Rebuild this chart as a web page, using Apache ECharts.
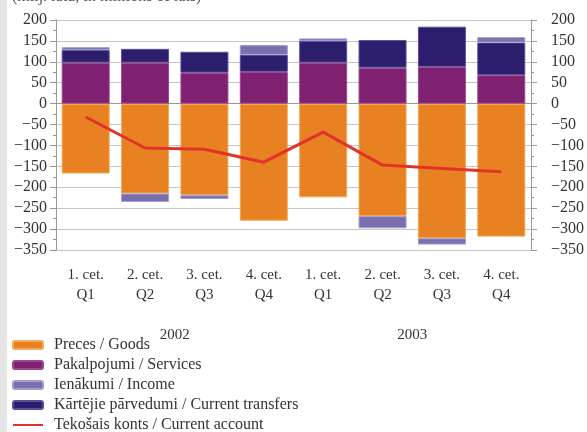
<!DOCTYPE html>
<html>
<head>
<meta charset="utf-8">
<script src="https://cdn.jsdelivr.net/npm/echarts@6/dist/echarts.min.js"></script>
<style>
  html, body { margin: 0; padding: 0; background: #fff; }
  #chart { width: 587px; height: 432px; }
</style>
</head>
<body>
<div id="chart"></div>
<script>
// quarters and years
const quarters = ["1. cet.\nQ1", "2. cet.\nQ2", "3. cet.\nQ3", "4. cet.\nQ4",
                  "1. cet.\nQ1", "2. cet.\nQ2", "3. cet.\nQ3", "4. cet.\nQ4"];
const years = ["2002", "2003"];

// values, millions of lats
const goods = [-167, -215, -219, -280, -224, -269, -322, -318];
const services = [98, 98, 74, 76, 98, 86, 88, 68];
const income = [7, -20, -9, 23, 6, -29, -15, 13];
const transfers = [30, 33, 50, 41, 52, 66, 96, 78];
const currentAccount = [-32, -106, -109, -140, -68, -147, -155, -163];

const names = {
  goods: "Preces / Goods",
  services: "Pakalpojumi / Services",
  income: "Ienākumi / Income",
  transfers: "Kārtējie pārvedumi / Current transfers",
  current: "Tekošais konts / Current account",
};

const serif = "'Liberation Serif', 'DejaVu Serif', serif";
const txt = "#333";

const chart = echarts.init(document.getElementById("chart"));

const yAxisBase = {
  type: "value",
  min: -350,
  max: 200,
  interval: 50,
  axisLine: { show: true, lineStyle: { color: "#999" } },
  axisTick: { show: true, length: 6, lineStyle: { color: "#999" } },
  minorTick: { show: true, splitNumber: 2, length: 3, lineStyle: { color: "#999" } },
  splitLine: { show: false },
  axisLabel: {
    color: txt, fontFamily: serif, fontSize: 16,
    formatter: (v) => String(v).replace("-", "\u2212"),
  },
};

const option = {
  animation: false,
  backgroundColor: "#fff",
  graphic: [
    { type: "rect", left: 0, top: 0, shape: { width: 7, height: 432 }, style: { fill: "#e4e4e4" } },
    { type: "text", left: 12, top: -11, style: { text: "(milj. latu; in millions of lats)", font: "16px " + serif, fill: "#555" } },
  ],
  legend: {
    orient: "vertical",
    left: 12,
    top: 337,
    height: 140,
    padding: 0,
    itemWidth: 30,
    itemHeight: 8,
    itemGap: 4,
    textStyle: { color: txt, fontFamily: serif, fontSize: 16, padding: [0, 0, 0, 6] },
    data: [
      names.goods, names.services, names.income, names.transfers,
      { name: names.current, itemStyle: { color: "rgba(0,0,0,0)", borderWidth: 0 } },
    ],
  },
  grid: { left: 56, right: 49, top: 20, bottom: 182 },
  xAxis: [
    {
      type: "category",
      data: quarters,
      axisLine: { show: true, lineStyle: { color: "#999" } },
      axisTick: { show: true, alignWithLabel: true, length: 6, lineStyle: { color: "#999" } },
      axisLabel: { color: txt, fontFamily: serif, fontSize: 15, lineHeight: 20, margin: 15, interval: 0 },
    },
    {
      type: "category",
      data: years,
      position: "bottom",
      offset: 70,
      axisLine: { show: false },
      axisTick: { show: false },
      axisLabel: { color: txt, fontFamily: serif, fontSize: 15 },
    },
  ],
  yAxis: [
    Object.assign({}, yAxisBase, {
      position: "left",
      splitLine: { show: true, lineStyle: { color: "#c4c4c4" } },
      axisLabel: Object.assign({}, yAxisBase.axisLabel, { margin: 9 }),
    }),
    Object.assign({}, yAxisBase, {
      position: "right",
      axisLabel: Object.assign({}, yAxisBase.axisLabel, { margin: 20, align: "left" }),
    }),
  ],
  series: [
    {
      name: names.goods, type: "bar", stack: "bop", data: goods, barWidth: 48,
      itemStyle: { color: "#e88122", borderColor: "#f3a85a", borderWidth: 1 },
    },
    {
      name: names.services, type: "bar", stack: "bop", data: services,
      itemStyle: { color: "#7f2170", borderColor: "#9a4a8c", borderWidth: 1 },
    },
    {
      name: names.transfers, type: "bar", stack: "bop", data: transfers,
      itemStyle: { color: "#2c1e6c", borderColor: "#5a4f9a", borderWidth: 1 },
    },
    {
      name: names.income, type: "bar", stack: "bop", data: income,
      itemStyle: { color: "#7b70ad", borderColor: "#a29ad0", borderWidth: 1 },
    },
    {
      name: names.current, type: "line", data: currentAccount,
      symbol: "none", z: 5,
      lineStyle: { color: "#e2332b", width: 3 },
      itemStyle: { color: "#e2332b" },
    },
  ],
};

chart.setOption(option);
</script>
</body>
</html>
